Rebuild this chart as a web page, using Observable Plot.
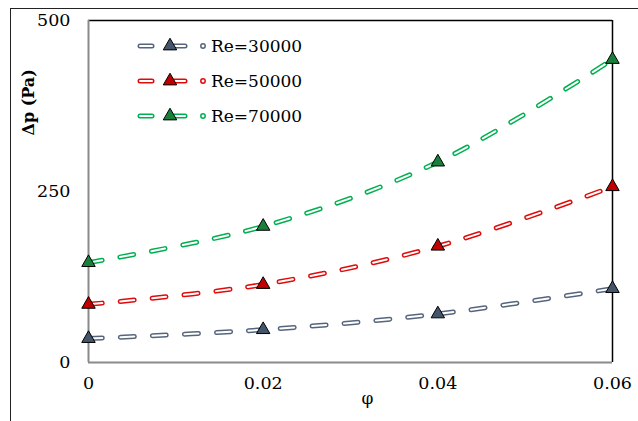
<!DOCTYPE html>
<html>
<head>
<meta charset="utf-8">
<script src="https://cdn.jsdelivr.net/npm/d3@7"></script>
<script src="https://cdn.jsdelivr.net/npm/@observablehq/plot@0.6"></script>
<style>
  html, body { margin: 0; padding: 0; background: #fff; }
  #chart { width: 638px; height: 421px; overflow: hidden; }
</style>
</head>
<body>
<div id="chart"></div>
<script>
const phi = [0, 0.02, 0.04, 0.06];
const re30000 = [35, 48, 71, 108];
const re50000 = [85, 114, 170, 257];
const re70000 = [146, 199, 293, 443];
const seriesNames = ["Re=30000", "Re=50000", "Re=70000"];
const lineColors = ["#56657D", "#E00B0B", "#00B050"];
const markerColors = ["#44546A", "#C00000", "#1A7F3A"];
const xTicks = [0, 0.02, 0.04, 0.06];
const yTicks = [0, 250, 500];

const allSeries = [re30000, re50000, re70000];
const rows = [];
allSeries.forEach((vals, s) => vals.forEach((v, i) => rows.push({series: seriesNames[s], phi: phi[i], dp: v})));

const colorScale = {domain: seriesNames, range: lineColors};
const fillFor = Object.fromEntries(seriesNames.map((n, i) => [n, markerColors[i]]));
const serif = "'DejaVu Serif', serif";

const dash = "14,18";
const plot = Plot.plot({
  width: 638,
  height: 421,
  marginLeft: 88,
  marginRight: 26,
  marginTop: 20,
  marginBottom: 59,
  style: {fontSize: "17.5px", color: "#000", background: "#fff"},
  x: {domain: [0, 0.06], ticks: xTicks},
  y: {domain: [0, 500], ticks: yTicks},
  color: colorScale,
  marks: [
    Plot.axisX({ticks: xTicks, tickSize: 0, tickPadding: 14, tickFormat: d => String(d), label: null, fontSize: 17.5}),
    Plot.axisY({ticks: yTicks, tickSize: 0, tickPadding: 18, label: null, fontSize: 17.5}),
    Plot.ruleY([500], {stroke: "#000", strokeWidth: 1.5}),
    Plot.ruleX([0.06], {stroke: "#000", strokeWidth: 1.5}),
    Plot.ruleX([0], {stroke: "#8a8a8a", strokeWidth: 2}),
    Plot.ruleY([0], {stroke: "#8a8a8a", strokeWidth: 2}),
    Plot.line(rows, {x: "phi", y: "dp", z: "series", stroke: "series", strokeWidth: 5, strokeDasharray: dash, strokeLinecap: "round", curve: "catmull-rom"}),
    Plot.line(rows, {x: "phi", y: "dp", z: "series", stroke: "#fff", strokeWidth: 2, strokeDasharray: dash, strokeLinecap: "round", curve: "catmull-rom"}),
    Plot.dot(rows, {x: "phi", y: "dp", symbol: "triangle", r: 5, fill: d => fillFor[d.series], stroke: "#000", strokeWidth: 1}),
    Plot.text(["φ"], {frameAnchor: "bottom", dx: 17, dy: 41, fontSize: 17}),
    Plot.text(["Δp (Pa)"], {frameAnchor: "top-left", dx: -66, dy: 115, rotate: -90, fontSize: 16, fontWeight: "bold"})
  ]
});
document.getElementById("chart").appendChild(plot);

// outer border and legend
const svg = d3.select(plot);
svg.insert("rect", ":first-child")
  .attr("x", 10.5).attr("y", 8.5).attr("width", 700).attr("height", 500)
  .attr("fill", "none").attr("stroke", "#222").attr("stroke-width", 1);

const leg = svg.append("g").attr("text-anchor", "start");
seriesNames.forEach((name, i) => {
  const y = 46 + i * 35;
  const g = leg.append("g").attr("transform", `translate(0,${y})`);
  const seg = (x1, x2) => {
    g.append("line").attr("x1", x1).attr("x2", x2).attr("y1", 0).attr("y2", 0)
      .attr("stroke", lineColors[i]).attr("stroke-width", 5).attr("stroke-linecap", "round");
    g.append("line").attr("x1", x1).attr("x2", x2).attr("y1", 0).attr("y2", 0)
      .attr("stroke", "#fff").attr("stroke-width", 2).attr("stroke-linecap", "round");
  };
  seg(140, 152);
  seg(174, 185);
  g.append("path").attr("d", d3.symbol(d3.symbolTriangle, 5 * 5 * Math.PI)())
    .attr("transform", "translate(170,0)")
    .attr("fill", markerColors[i]).attr("stroke", "#000").attr("stroke-width", 1);
  g.append("circle").attr("cx", 203).attr("cy", 0).attr("r", 2.2)
    .attr("fill", "#fff").attr("stroke", lineColors[i]).attr("stroke-width", 1.5);
  g.append("text").attr("x", 211).attr("y", 0).attr("dy", "0.35em").attr("text-anchor", "start")
    .attr("font-size", 17).attr("fill", "#000").text(name);
});
svg.selectAll("text").style("font-family", serif);
</script>
</body>
</html>
